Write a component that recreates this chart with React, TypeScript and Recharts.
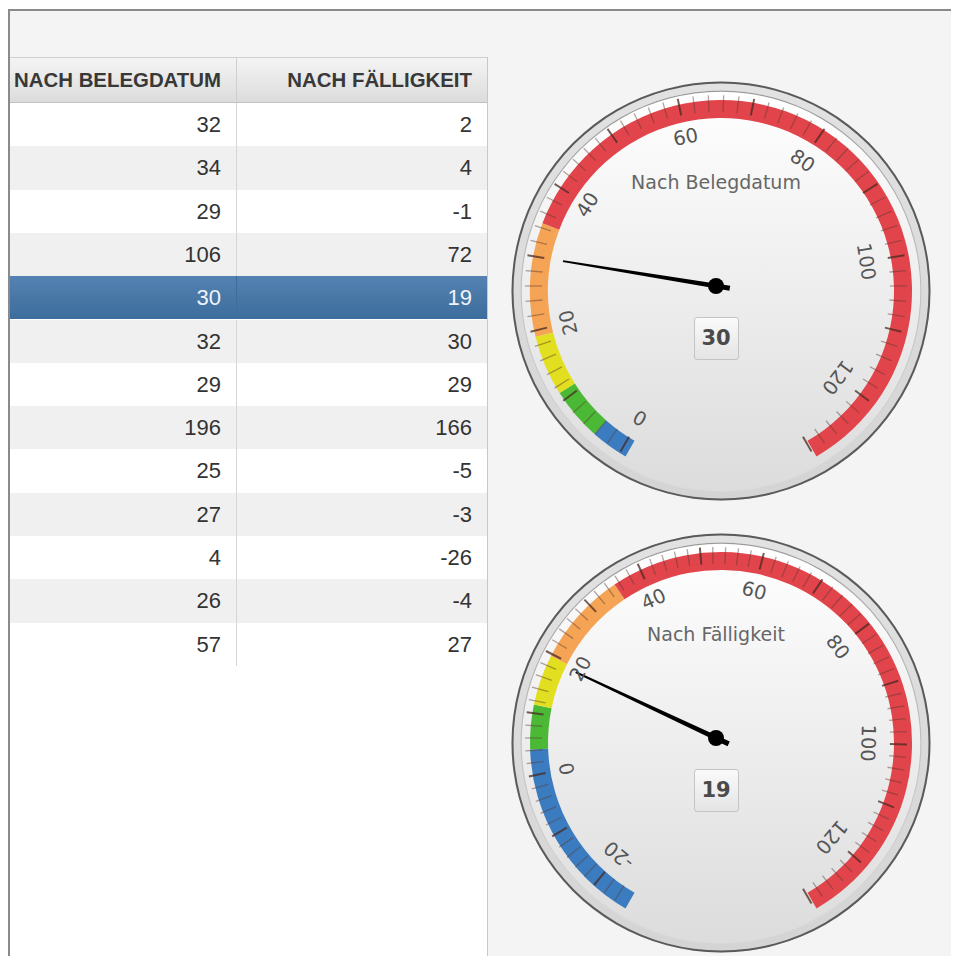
import React from 'react';
import { PieChart, Pie, Cell, RadialBarChart, RadialBar, PolarAngleAxis } from 'recharts';

// ---------- data ----------
const columnHeaders = ['NACH BELEGDATUM', 'NACH FÄLLIGKEIT'];
const rowsBelegdatum = [32, 34, 29, 106, 30, 32, 29, 196, 25, 27, 4, 26, 57];
const rowsFaelligkeit = [2, 4, -1, 72, 19, 30, 29, 166, -5, -3, -26, -4, 27];
const selectedRow = 4;

const gaugeTitles = ['Nach Belegdatum', 'Nach Fälligkeit'];
const gauge1Range = [0, 130];
const gauge2Range = [-25, 130];
const gauge1Labels = [0, 20, 40, 60, 80, 100, 120];
const gauge2Labels = [-20, 0, 20, 40, 60, 80, 100, 120];

const bandNames = ['blau', 'grün', 'gelb', 'orange', 'rot'];
const bandColors = ['#3b7cc0', '#4cb936', '#e1df1f', '#f5a456', '#e2444b'];
const bandLimits = [5, 12, 20, 35];

const minorStep = 2;
const majorStep = 10;

// ---------- geometry ----------
const SIZE = 440;
const CX = 220;
const CY = 220;
const BEZEL_R = 209.5;
const FACE_R = 200.5;
const BAND_OUT = 191;
const BAND_IN = 173;
const LABEL_R = 152;
const NEEDLE_L = 155;

const FONT_GAUGE = "'DejaVu Sans', sans-serif";
const FONT_TABLE = "'Liberation Sans', Arial, sans-serif";

const fullCircle = [{ v: 1 }];

type GaugeProps = {
  value: number;
  range: number[];
  labels: number[];
  title: string;
  top: number;
  left: number;
};

function Gauge({ value, range, labels, title, top, left }: GaugeProps) {
  const [min, max] = range;
  const edges = [min, ...bandLimits, max];
  const bands = bandNames.map((n, i) => ({ name: n, size: edges[i + 1] - edges[i] }));
  const ticks: number[] = [];
  for (let v = Math.ceil(min / minorStep) * minorStep; v <= max; v += minorStep) ticks.push(v);

  const renderTick = (props: any) => {
    const { x, y, payload } = props;
    const a = Math.atan2(y - CY, x - CX);
    const c = Math.cos(a);
    const s = Math.sin(a);
    const v = payload.value;
    const major = v % majorStep === 0;
    const isLabel = labels.indexOf(v) >= 0;
    const lx = CX + c * LABEL_R;
    const ly = CY + s * LABEL_R;
    const rot = (a * 180) / Math.PI + 90;
    return (
      <g>
        <line
          x1={CX + c * (BAND_IN + 1)}
          y1={CY + s * (BAND_IN + 1)}
          x2={CX + c * BAND_OUT}
          y2={CY + s * BAND_OUT}
          stroke={major ? '#4a2a22' : '#5a3a30'}
          strokeOpacity={major ? 0.75 : 0.45}
          strokeWidth={major ? 2 : 1.3}
        />
        {isLabel && (
          <text
            x={lx}
            y={ly}
            textAnchor="middle"
            dominantBaseline="central"
            transform={`rotate(${rot} ${lx} ${ly})`}
            fontFamily={FONT_GAUGE}
            fontSize={19.5}
            fill="#555"
          >
            {v}
          </text>
        )}
      </g>
    );
  };

  const renderNeedle = (props: any) => {
    const { cx, cy, endAngle } = props;
    const r = (endAngle * Math.PI) / 180;
    const ux = Math.cos(r);
    const uy = -Math.sin(r);
    const px = -uy;
    const py = ux;
    const tail = 14;
    const pts = [
      [cx + ux * NEEDLE_L + px * 1, cy + uy * NEEDLE_L + py * 1],
      [cx + ux * NEEDLE_L - px * 1, cy + uy * NEEDLE_L - py * 1],
      [cx - ux * tail - px * 2.6, cy - uy * tail - py * 2.6],
      [cx - ux * tail + px * 2.6, cy - uy * tail + py * 2.6],
    ];
    return (
      <g>
        <polygon points={pts.map((p) => p.join(',')).join(' ')} fill="#000" />
        <circle cx={cx} cy={cy} r={8} fill="#000" />
      </g>
    );
  };

  const ring = (inner: number, outer: number, fill: string) => (
    <Pie
      data={fullCircle}
      dataKey="v"
      cx={CX}
      cy={CY}
      innerRadius={inner}
      outerRadius={outer}
      startAngle={90}
      endAngle={-270}
      fill={fill}
      stroke="none"
      isAnimationActive={false}
    />
  );

  return (
    <div style={{ position: 'absolute', left, top, width: SIZE, height: SIZE }}>
      <div style={{ position: 'absolute', left: 0, top: 0 }}>
        <PieChart width={SIZE} height={SIZE}>
          {ring(0, BEZEL_R, 'url(#bezelGrad)')}
          {ring(BEZEL_R - 2, BEZEL_R, '#5a5a5a')}
          {ring(0, FACE_R, 'url(#faceGrad)')}
          {ring(FACE_R - 1.2, FACE_R, 'url(#edgeGrad)')}
          <Pie
            data={bands}
            dataKey="size"
            nameKey="name"
            cx={CX}
            cy={CY}
            innerRadius={BAND_IN}
            outerRadius={BAND_OUT}
            startAngle={240}
            endAngle={-60}
            stroke="none"
            isAnimationActive={false}
          >
            {bands.map((b, i) => (
              <Cell key={b.name} fill={bandColors[i]} />
            ))}
          </Pie>
        </PieChart>
      </div>
      <div
        style={{
          position: 'absolute',
          left: 0,
          width: SIZE,
          top: CY - 104 - 15,
          height: 30,
          lineHeight: '30px',
          textAlign: 'center',
          fontFamily: FONT_GAUGE,
          fontSize: 19,
          color: '#666',
        }}
      >
        {title}
      </div>
      <div
        style={{
          position: 'absolute',
          left: CX - 22.5,
          top: CY + 52 - 21.5,
          width: 45,
          height: 43,
          boxSizing: 'border-box',
          border: '1px solid #c4c4c4',
          borderRadius: 3,
          background: 'linear-gradient(#fafafa, #e4e4e4)',
          textAlign: 'center',
          lineHeight: '41px',
          fontFamily: FONT_GAUGE,
          fontWeight: 'bold',
          fontSize: 21,
          color: '#4a4a4a',
        }}
      >
        {value}
      </div>
      <div style={{ position: 'absolute', left: 0, top: 0 }}>
        <RadialBarChart
          width={SIZE}
          height={SIZE}
          cx={CX}
          cy={CY}
          innerRadius={0}
          outerRadius={BAND_IN}
          startAngle={240}
          endAngle={-60}
          data={[{ name: title, value }]}
        >
          <PolarAngleAxis
            type="number"
            domain={[min, max]}
            allowDataOverflow
            ticks={ticks}
            tick={renderTick}
            tickSize={BAND_OUT - BAND_IN}
            tickLine={false}
            axisLine={false}
            stroke="none"
          />
          <RadialBar dataKey="value" shape={renderNeedle} isAnimationActive={false} />
        </RadialBarChart>
      </div>
    </div>
  );
}

const ROW_H = 43.3;

function DataTable() {
  return (
    <div
      style={{
        position: 'absolute',
        left: 2,
        top: 49,
        width: 478,
        height: 920,
        background: '#fff',
        boxSizing: 'border-box',
        borderRight: '1px solid #c8c8c8',
        fontFamily: FONT_TABLE,
      }}
    >
      <div
        style={{
          position: 'absolute',
          left: 0,
          top: 0,
          width: 477,
          height: 46,
          boxSizing: 'border-box',
          borderTop: '1px solid #cfcfcf',
          borderBottom: '1px solid #c2c2c2',
          background: 'linear-gradient(#f4f4f4, #dcdcdc)',
        }}
      >
        {columnHeaders.map((h, i) => (
          <div
            key={h}
            style={{
              position: 'absolute',
              left: i === 0 ? 0 : 228,
              width: i === 0 ? 227 : 249,
              top: 0,
              height: 44,
              lineHeight: '44px',
              textAlign: 'right',
              boxSizing: 'border-box',
              paddingRight: 15,
              fontSize: 20.4,
              fontWeight: 'bold',
              color: '#383838',
              whiteSpace: 'nowrap',
              borderRight: i === 0 ? '1px solid #cfcfcf' : 'none',
            }}
          >
            {h}
          </div>
        ))}
      </div>
      {rowsBelegdatum.map((b, r) => {
        const sel = r === selectedRow;
        const bg = sel
          ? 'linear-gradient(#5482b1, #3d6d9d)'
          : r % 2 === 0
          ? '#ffffff'
          : '#f0f0f0';
        const color = sel ? '#eef4fa' : '#333';
        return (
          <div
            key={r}
            style={{
              position: 'absolute',
              left: 0,
              top: 46 + r * ROW_H,
              width: 477,
              height: ROW_H,
              background: bg,
            }}
          >
            {[b, rowsFaelligkeit[r]].map((v, i) => (
              <div
                key={i}
                style={{
                  position: 'absolute',
                  left: i === 0 ? 0 : 228,
                  width: i === 0 ? 227 : 249,
                  top: 0,
                  height: ROW_H,
                  lineHeight: ROW_H + 'px',
                  textAlign: 'right',
                  boxSizing: 'border-box',
                  paddingRight: 15,
                  fontSize: 22,
                  color,
                  borderRight: i === 0 ? `1px solid ${sel ? '#3d6d9d' : '#d6d6d6'}` : 'none',
                }}
              >
                {v}
              </div>
            ))}
          </div>
        );
      })}
    </div>
  );
}

export default function App() {
  return (
    <div style={{ position: 'relative', width: 943, height: 948, overflow: 'hidden' }}>
      <svg width={0} height={0} style={{ position: 'absolute' }}>
        <defs>
          <linearGradient id="bezelGrad" x1="0" y1="0" x2="0" y2="1">
            <stop offset="0" stopColor="#e2e2e2" />
            <stop offset="1" stopColor="#d4d4d4" />
          </linearGradient>
          <linearGradient id="faceGrad" x1="0" y1="0" x2="0" y2="1">
            <stop offset="0" stopColor="#ffffff" />
            <stop offset="1" stopColor="#dcdcdc" />
          </linearGradient>
          <linearGradient id="edgeGrad" x1="0" y1="0" x2="0" y2="1">
            <stop offset="0" stopColor="#9a9a9a" stopOpacity="1" />
            <stop offset="0.75" stopColor="#9a9a9a" stopOpacity="0.3" />
            <stop offset="1" stopColor="#9a9a9a" stopOpacity="0" />
          </linearGradient>
        </defs>
      </svg>
      <div
        style={{
          position: 'absolute',
          left: 0,
          top: 1,
          width: 948,
          height: 960,
          boxSizing: 'border-box',
          borderLeft: '2px solid #8a8a8a',
          borderTop: '2px solid #8a8a8a',
          borderRight: '2px solid #8a8a8a',
          background: '#f4f4f4',
        }}
      />
      <DataTable />
      <Gauge
        value={rowsBelegdatum[selectedRow]}
        range={gauge1Range}
        labels={gauge1Labels}
        title={gaugeTitles[0]}
        left={716 - CX - 8}
        top={286 - CY - 8}
      />
      <Gauge
        value={rowsFaelligkeit[selectedRow]}
        range={gauge2Range}
        labels={gauge2Labels}
        title={gaugeTitles[1]}
        left={716 - CX - 8}
        top={738 - CY - 8}
      />
    </div>
  );
}
